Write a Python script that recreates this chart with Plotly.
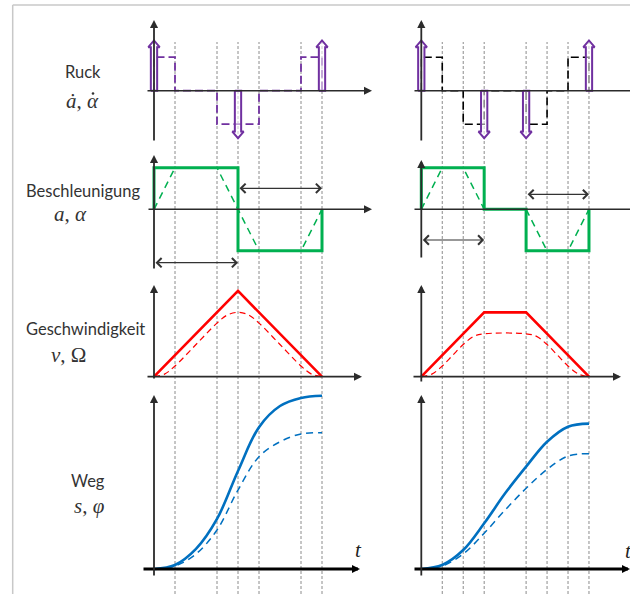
import plotly.graph_objects as go

W, H = 630, 594

# ---------------- data ----------------
grid_left = [1, 3, 4, 5, 7, 8]
grid_right = [1, 2, 3, 5, 6, 7, 8]

# left column (triangular velocity profile)
jerk_t_L = [0, 0, 1, 3, 5, 7, 8, 8]
jerk_v_L = [0, 1, 0, -1, 0, 1, 1, 0]
imp_t_L = [0, 4, 8]
imp_v_L = [1.5, -1.42, 1.5]
acc_t_L = [0, 0, 4, 4, 8, 8]
acc_v_L = [0, 1, 1, -1, -1, 0]
accd_t_L = [0, 1, 3, 5, 7, 8]
accd_v_L = [0, 1, 1, -1, -1, 0]
vel_t_L = [0, 4, 8]
vel_v_L = [0, 4, 0]
veld_t_L = [0, 0.5, 1, 2, 3, 3.5, 4, 4.5, 5, 6, 7, 7.5, 8]
veld_v_L = [0, 0.12, 0.5, 1.5, 2.5, 2.88, 3, 2.88, 2.5, 1.5, 0.5, 0.12, 0]
pos_t_L = [0, 1, 2, 3, 4, 5, 6, 7, 8]
pos_v_L = [0, 0.37, 1.85, 4.62, 9.05, 13.1, 15.05, 15.8, 16.0]
posd_v_L = [0, 0.28, 1.39, 3.6, 7.29, 10.37, 11.75, 12.47, 12.59]
span_L = [(4, 8, 0.506), (0, 4, -1.287)]

# right column (trapezoidal velocity profile)
jerk_t_R = [0, 0, 1, 2, 3, 5, 6, 7, 8, 8]
jerk_v_R = [0, 1, 0, -1, 0, -1, 0, 1, 1, 0]
imp_t_R = [0, 3, 5, 8]
imp_v_R = [1.5, -1.42, -1.42, 1.5]
acc_t_R = [0, 0, 3, 3, 5, 5, 8, 8]
acc_v_R = [0, 1, 1, 0, 0, -1, -1, 0]
accd_t_R = [0, 1, 2, 3, 5, 6, 7, 8]
accd_v_R = [0, 1, 1, 0, 0, -1, -1, 0]
vel_t_R = [0, 3, 5, 8]
vel_v_R = [0, 3, 3, 0]
veld_t_R = [0, 0.5, 1, 1.5, 2, 2.5, 3, 5, 5.5, 6, 6.5, 7, 7.5, 8]
veld_v_R = [0, 0.12, 0.5, 1.0, 1.5, 1.88, 2, 2, 1.88, 1.5, 1.0, 0.5, 0.12, 0]
pos_t_R = [0, 1, 2, 3, 4, 5, 6, 7, 8]
pos_v_R = [0, 0.37, 1.75, 4.22, 6.99, 9.45, 11.75, 13.14, 13.42]
posd_v_R = [0, 0.28, 1.39, 3.3, 5.45, 7.45, 9.2, 10.43, 10.65]
span_R = [(5, 8, 0.36), (0, 3, -0.74)]

row_titles = ["Ruck", "Beschleunigung", "Geschwindigkeit", "Weg"]
row_symbols = ["<i>ȧ</i>, <i>α</i>", "<i>a</i>, <i>α</i>", "<i>v</i>, Ω", "<i>s</i>, <i>φ</i>"]

# ---------------- layout geometry (pixels) ----------------
COL = {  # t=0 pixel, px per time unit, domain px
    "L": dict(x0=154.0, unit=21.0, d=(130, 395), xa="x"),
    "R": dict(x0=421.3, unit=20.96, d=(400, 630), xa="x2"),
}
ROWS = [  # top, bottom, zero pixel, px per unit
    dict(top=10, bot=148, zero=90.7, unit=33.5),
    dict(top=148, bot=282, zero=209.3, unit=41.5),
    dict(top=282, bot=386, zero=376.7, unit=21.45),
    dict(top=386, bot=594, zero=569.0, unit=10.83),
]
YA = {"L": ["y", "y2", "y3", "y4"], "R": ["y5", "y6", "y7", "y8"]}


def px2t(c, px):
    return (px - COL[c]["x0"]) / COL[c]["unit"]


def py2v(r, py):
    return (ROWS[r]["zero"] - py) / ROWS[r]["unit"]


PURPLE = "#7030A0"
GREEN = "#00B050"
RED = "#FF0000"
BLUE = "#0070C0"
AXC = "#2b2b2b"

fig = go.Figure()


def add(c, r, x, y, **kw):
    fig.add_trace(go.Scatter(x=x, y=y, xaxis=COL[c]["xa"], yaxis=YA[c][r],
                             mode="lines", showlegend=False, hoverinfo="skip", **kw))


def impulses(c, ts, vs):
    w, hw = 0.15, 0.27
    for t, v in zip(ts, vs):
        hl = 0.2 if v > 0 else -0.2
        xs = [t - w, t - w, t - hw, t, t + hw, t + w, t + w, t - w]
        ys = [0, v - hl, v - hl, v, v - hl, v - hl, 0, 0]
        add(c, 0, xs, ys, fill="toself", fillcolor="rgba(255,255,255,0.55)",
            line=dict(color=PURPLE, width=2))


# jerk
add("L", 0, jerk_t_L, jerk_v_L, line=dict(color=PURPLE, width=1.8, dash="8px,4px", shape="hv"))
add("R", 0, jerk_t_R, jerk_v_R, line=dict(color="#000000", width=1.6, dash="8px,4px", shape="hv"))
impulses("L", imp_t_L, imp_v_L)
impulses("R", imp_t_R, imp_v_R)

# acceleration
for c, td, vd, ts, vs in [("L", accd_t_L, accd_v_L, acc_t_L, acc_v_L),
                          ("R", accd_t_R, accd_v_R, acc_t_R, acc_v_R)]:
    add(c, 1, td, vd, line=dict(color=GREEN, width=1.5, dash="7px,5px"))
    add(c, 1, ts, vs, line=dict(color=GREEN, width=3))

# velocity
for c, td, vd, ts, vs in [("L", veld_t_L, veld_v_L, vel_t_L, vel_v_L),
                          ("R", veld_t_R, veld_v_R, vel_t_R, vel_v_R)]:
    add(c, 2, td, vd, line=dict(color=RED, width=1.2, dash="6px,4px", shape="spline"))
    add(c, 2, ts, vs, line=dict(color=RED, width=2.6))

# position
for c, ts, vd, vs in [("L", pos_t_L, posd_v_L, pos_v_L), ("R", pos_t_R, posd_v_R, pos_v_R)]:
    add(c, 3, ts, vd, line=dict(color=BLUE, width=1.5, dash="7px,5px", shape="spline"))
    add(c, 3, ts, vs, line=dict(color=BLUE, width=2.6, shape="spline"))

# ---------------- axes ----------------
lay = dict(width=W, height=H, margin=dict(l=0, r=0, t=0, b=0),
           paper_bgcolor="white", plot_bgcolor="rgba(0,0,0,0)")
for c, name in [("L", "xaxis"), ("R", "xaxis2")]:
    d0, d1 = COL[c]["d"]
    lay[name] = dict(domain=[d0 / W, d1 / W], range=[px2t(c, d0), px2t(c, d1)],
                     visible=False, fixedrange=True,
                     anchor=YA[c][0])
for c in ["L", "R"]:
    for r, ya in enumerate(YA[c]):
        key = "yaxis" if ya == "y" else "yaxis" + ya[1:]
        R = ROWS[r]
        lay[key] = dict(domain=[1 - R["bot"] / H, 1 - R["top"] / H],
                        range=[py2v(r, R["bot"]), py2v(r, R["top"])],
                        visible=False, fixedrange=True, anchor=COL[c]["xa"])
fig.update_layout(**lay)

ann = []
shapes = []


def arrow(c, r, x0, y0, x1, y1, width=1.6, size=1.0, color=AXC, head=2, both=False):
    xa, ya = COL[c]["xa"], YA[c][r]
    d = dict(x=x1, y=y1, ax=x0, ay=y0, xref=xa, yref=ya, axref=xa, ayref=ya,
             showarrow=True, text="", arrowhead=head, arrowsize=size, arrowwidth=width,
             arrowcolor=color, standoff=0, startstandoff=0)
    if both:
        d.update(arrowside="end+start", startarrowhead=head, startarrowsize=size)
    ann.append(d)


# axis extents in pixels: (x-axis start, x-axis tip, y-axis bottom, y-axis tip, x width)
axes_px = {
    "L": [(146, 372, 142, 20, 1.6), (147, 372, 270, 155, 1.6), (146, 362, 380, 285, 1.8), (142, 360, 577, 395, 3.0)],
    "R": [(413, 645, 142, 20, 1.6), (413, 645, 259, 160, 1.6), (412, 621, 383, 285, 1.8), (413, 630, 577, 395, 3.0)],
}
for c in ["L", "R"]:
    for r, (xs, xe, yb, yt, xw) in enumerate(axes_px[c]):
        arrow(c, r, px2t(c, xs), 0, px2t(c, xe), 0, width=xw, size=1.6 / xw,
              color="#000000" if r == 3 else AXC)
        arrow(c, r, 0, py2v(r, yb), 0, py2v(r, yt), width=1.8, size=0.9)

# double-headed duration arrows in the acceleration row
for c, spans in [("L", span_L), ("R", span_R)]:
    for t0, t1, lvl in spans:
        arrow(c, 1, t0, lvl, t1, lvl, width=1.2, size=1.5, color="#333333", head=4, both=True)

# vertical dashed time markers
for c, gl in [("L", grid_left), ("R", grid_right)]:
    for t in gl:
        shapes.append(dict(type="line", xref=COL[c]["xa"], yref="paper", x0=t, x1=t,
                           y0=0, y1=1 - 42 / H, layer="below",
                           line=dict(color="#8c8c8c", width=1, dash="3px,2px")))

# frame
shapes.append(dict(type="line", xref="paper", yref="paper", x0=12.7 / W, x1=12.7 / W,
                   y0=0, y1=1 - 5 / H, line=dict(color="#c8c8c8", width=1.5)))
shapes.append(dict(type="line", xref="paper", yref="paper", x0=12.7 / W, x1=1,
                   y0=1 - 5 / H, y1=1 - 5 / H, line=dict(color="#c8c8c8", width=1.5)))

# dot above the alpha of the jerk symbol (drawn as a tiny circle)
dot_x, dot_y, dot_r = 93.0, 93.5, 1.3
shapes.append(dict(type="circle", xref="paper", yref="paper",
                   x0=(dot_x - dot_r) / W, x1=(dot_x + dot_r) / W,
                   y0=1 - (dot_y + dot_r) / H, y1=1 - (dot_y - dot_r) / H,
                   fillcolor="#333333", line=dict(width=0)))

# row labels
title_pos = [(83, 72), (83, 191), (86, 329), (88, 481)]
sym_pos = [(82, 101), (70, 214), (68, 355), (89, 506)]
for txt, (px, py) in zip(row_titles, title_pos):
    ann.append(dict(x=px / W, y=1 - py / H, xref="paper", yref="paper", text=txt,
                    showarrow=False, xanchor="center", yanchor="middle",
                    font=dict(family="Lato", size=16.5, color="#333333")))
for txt, (px, py) in zip(row_symbols, sym_pos):
    ann.append(dict(x=px / W, y=1 - py / H, xref="paper", yref="paper", text=txt,
                    showarrow=False, xanchor="center", yanchor="middle",
                    font=dict(family="Liberation Serif", size=21, color="#333333")))
for px, py in [(358, 550), (628, 551)]:
    ann.append(dict(x=px / W, y=1 - py / H, xref="paper", yref="paper", text="<i>t</i>",
                    showarrow=False, xanchor="center", yanchor="middle",
                    font=dict(family="Liberation Serif", size=21, color="#222222")))

fig.update_layout(annotations=ann, shapes=shapes)
fig.write_html("out.html", config={"displayModeBar": False},
               post_script="document.body.style.margin='0';document.body.style.overflow='hidden';")
